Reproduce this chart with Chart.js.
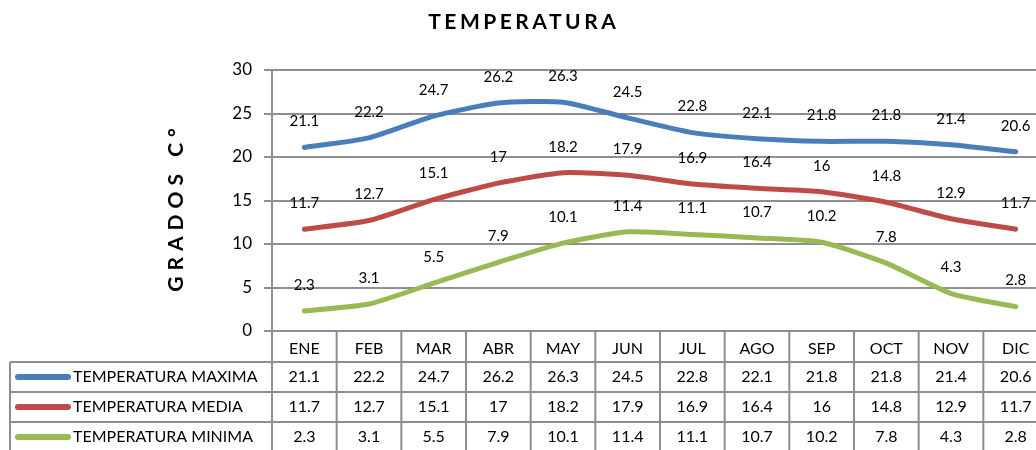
<!DOCTYPE html>
<html>
<head>
<meta charset="utf-8">
<script src="https://cdn.jsdelivr.net/npm/chart.js@4.4.1/dist/chart.umd.min.js"></script>
<style>
  html, body { margin: 0; padding: 0; background: #fff; overflow: hidden; }
  #wrap { position: relative; width: 1052px; height: 450px; }
</style>
</head>
<body>
<div id="wrap"><canvas id="grafico"></canvas></div>
<script>
// Datos de temperatura por mes
const meses = ['ENE', 'FEB', 'MAR', 'ABR', 'MAY', 'JUN', 'JUL', 'AGO', 'SEP', 'OCT', 'NOV', 'DIC']
const maxima = [21.1, 22.2, 24.7, 26.2, 26.3, 24.5, 22.8, 22.1, 21.8, 21.8, 21.4, 20.6]
const media = [11.7, 12.7, 15.1, 17, 18.2, 17.9, 16.9, 16.4, 16, 14.8, 12.9, 11.7]
const minima = [2.3, 3.1, 5.5, 7.9, 10.1, 11.4, 11.1, 10.7, 10.2, 7.8, 4.3, 2.8]
const series = ['TEMPERATURA MAXIMA', 'TEMPERATURA MEDIA', 'TEMPERATURA MINIMA']
const yMin = 0
const yMax = 30
const yPaso = 5

const colores = ['#4a7ebb', '#be4b48', '#98b954']
const fuente = 'Lato, "Open Sans", sans-serif'
const gris = '#8e8e8e'

// titulo y titulo del eje con espaciado de letras
const titulos = {
  id: 'titulos',
  afterDraw(chart) {
    const ctx = chart.ctx
    ctx.save()
    ctx.fillStyle = '#000'
    ctx.textBaseline = 'middle'
    ctx.textAlign = 'left'
    ctx.font = 'bold 21px ' + fuente
    ctx.letterSpacing = '3.5px'
    let t = 'TEMPERATURA'
    let w = ctx.measureText(t).width - 3.5
    ctx.fillText(t, 522 - w / 2, 22)

    ctx.translate(176, 210)
    ctx.rotate(-Math.PI / 2)
    ctx.font = 'bold 21px ' + fuente
    ctx.letterSpacing = '6px'
    t = 'GRADOS C°'
    w = ctx.measureText(t).width - 6
    ctx.fillText(t, -w / 2, 0)
    ctx.restore()
  },
}

// etiquetas de valor encima de cada punto
const etiquetas = {
  id: 'etiquetas',
  afterDatasetsDraw(chart) {
    const ctx = chart.ctx
    ctx.save()
    ctx.font = '15px ' + fuente
    ctx.fillStyle = '#000'
    ctx.textAlign = 'center'
    ctx.textBaseline = 'middle'
    chart.data.datasets.forEach((ds, i) => {
      chart.getDatasetMeta(i).data.forEach((pt, j) => {
        ctx.fillText(String(ds.data[j]), pt.x, pt.y - 26)
      })
    })
    ctx.restore()
  },
}

// tabla de datos bajo el grafico
const tabla = {
  id: 'tabla',
  afterDraw(chart) {
    const { ctx, chartArea } = chart
    const x = chart.scales.x
    const arriba = chartArea.bottom
    const altoCab = 31
    const altoFila = 30
    const colW = x.getPixelForValue(1) - x.getPixelForValue(0)
    const izq = 10
    ctx.save()
    ctx.strokeStyle = gris
    ctx.lineWidth = 2
    const linea = (x1, y1, x2, y2) => {
      ctx.beginPath()
      ctx.moveTo(x1, y1)
      ctx.lineTo(x2, y2)
      ctx.stroke()
    }
    for (let r = 0; r <= 3; r++) {
      const y = arriba + altoCab + r * altoFila
      linea(izq, y, chartArea.right, y)
    }
    for (let i = 0; i <= meses.length; i++) {
      const xx = x.getPixelForValue(0) - colW / 2 + i * colW
      linea(xx, arriba, xx, chart.height)
    }
    linea(izq, arriba + altoCab, izq, chart.height)

    ctx.textBaseline = 'middle'
    chart.data.datasets.forEach((ds, r) => {
      const yc = arriba + altoCab + r * altoFila + altoFila / 2
      ctx.strokeStyle = ds.borderColor
      ctx.lineWidth = 6
      ctx.lineCap = 'round'
      linea(18, yc, 68, yc)
      ctx.fillStyle = '#000'
      ctx.font = '16px ' + fuente
      ctx.textAlign = 'left'
      ctx.fillText(ds.label, 73, yc)
      ctx.textAlign = 'center'
      ds.data.forEach((v, j) => {
        ctx.fillText(String(v), x.getPixelForValue(j), yc)
      })
    })
    ctx.restore()
  },
}

new Chart(document.getElementById('grafico'), {
  type: 'line',
  data: {
    labels: meses,
    datasets: [maxima, media, minima].map((d, i) => ({
      label: series[i],
      data: d,
      borderColor: colores[i],
      backgroundColor: colores[i],
      borderWidth: 5,
      tension: 0.2,
      pointRadius: 0,
      borderCapStyle: 'round',
      borderJoinStyle: 'round',
    })),
  },
  options: {
    responsive: true,
    maintainAspectRatio: false,
    animation: false,
    layout: { padding: { top: 70, right: 4, left: 0, bottom: 0 } },
    plugins: {
      legend: { display: false },
      title: { display: false },
      tooltip: { enabled: false },
    },
    scales: {
      x: {
        offset: true,
        grid: { display: false, drawTicks: false },
        border: { display: false },
        ticks: {
          padding: 8,
          color: '#000',
          font: { family: fuente, size: 16 },
          maxRotation: 0,
        },
        afterFit(scale) { scale.height = 119 },
      },
      y: {
        min: yMin,
        max: yMax,
        ticks: {
          stepSize: yPaso,
          padding: 12,
          color: '#000',
          font: { family: fuente, size: 17 },
        },
        grid: { color: gris, lineWidth: 2, tickLength: 8 },
        border: { color: gris, width: 2 },
        afterFit(scale) { scale.width = 272 },
      },
    },
  },
  plugins: [titulos, etiquetas, tabla],
})
</script>
</body>
</html>
